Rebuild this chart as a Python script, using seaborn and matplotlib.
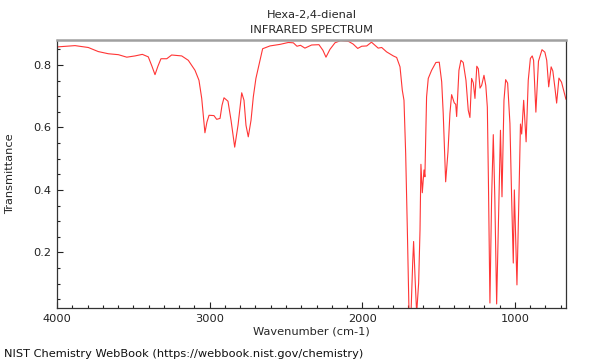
import numpy as np
import pandas as pd
import matplotlib
matplotlib.use("Agg")
import matplotlib.pyplot as plt
from matplotlib.ticker import MultipleLocator
import seaborn as sns

# --- spectrum (wavenumber cm-1, transmittance) ---
wavenumber = [3995, 3882, 3795, 3730, 3664, 3598, 3543, 3489, 3441, 3402,
              3378, 3358, 3339, 3319, 3281, 3249, 3183, 3140, 3096, 3070,
              3052, 3040, 3031, 3018, 3004, 2972, 2954, 2932, 2919, 2906,
              2880, 2860, 2836, 2814, 2790, 2775, 2762, 2747, 2729, 2714,
              2697, 2675, 2653, 2605, 2539, 2485, 2452, 2428, 2405, 2376,
              2332, 2284, 2258, 2238, 2212, 2179, 2143, 2092, 2060, 2030,
              2004, 1971, 1940, 1896, 1873, 1841, 1797, 1775, 1753, 1738,
              1727, 1716, 1705, 1694, 1681, 1670, 1664, 1653, 1644, 1631,
              1622, 1616, 1607, 1596, 1590, 1579, 1568, 1546, 1518, 1496,
              1480, 1470, 1454, 1439, 1426, 1415, 1398, 1388, 1382, 1367,
              1354, 1339, 1321, 1306, 1295, 1284, 1273, 1262, 1250, 1240,
              1229, 1218, 1203, 1191, 1181, 1174, 1164, 1153, 1142, 1132,
              1120, 1107, 1095, 1085, 1072, 1061, 1048, 1033, 1022, 1011,
              1004, 997, 987, 974, 964, 956, 943, 927, 913, 899,
              887, 878, 863, 846, 823, 804, 792, 779, 763, 752,
              738, 727, 712, 695, 666]
transmittance = [0.858, 0.862, 0.856, 0.843, 0.836, 0.833, 0.825, 0.829, 0.834, 0.826,
                 0.796, 0.769, 0.796, 0.820, 0.820, 0.832, 0.829, 0.815, 0.783, 0.751,
                 0.693, 0.629, 0.583, 0.617, 0.639, 0.638, 0.626, 0.629, 0.671, 0.695,
                 0.684, 0.623, 0.537, 0.608, 0.711, 0.687, 0.607, 0.570, 0.623, 0.698,
                 0.757, 0.804, 0.852, 0.861, 0.866, 0.872, 0.871, 0.860, 0.863, 0.854,
                 0.864, 0.865, 0.847, 0.825, 0.850, 0.871, 0.878, 0.876, 0.867, 0.853,
                 0.860, 0.861, 0.873, 0.854, 0.856, 0.842, 0.829, 0.824, 0.794, 0.719,
                 0.687, 0.517, 0.272, 0.005, 0.005, 0.167, 0.235, 0.102, 0.005, 0.102,
                 0.272, 0.482, 0.391, 0.464, 0.442, 0.698, 0.757, 0.783, 0.808, 0.809,
                 0.746, 0.645, 0.426, 0.521, 0.645, 0.705, 0.679, 0.674, 0.635, 0.783,
                 0.815, 0.808, 0.751, 0.655, 0.632, 0.757, 0.743, 0.693, 0.796, 0.788,
                 0.726, 0.735, 0.767, 0.734, 0.665, 0.432, 0.038, 0.374, 0.577, 0.374,
                 0.035, 0.320, 0.591, 0.378, 0.687, 0.753, 0.742, 0.613, 0.378, 0.166,
                 0.400, 0.272, 0.096, 0.378, 0.611, 0.579, 0.687, 0.554, 0.751, 0.821,
                 0.829, 0.815, 0.649, 0.812, 0.849, 0.841, 0.815, 0.730, 0.794, 0.781,
                 0.726, 0.678, 0.758, 0.745, 0.690]

df = pd.DataFrame({"wavenumber": wavenumber, "transmittance": transmittance})

sns.set_style("ticks")
plt.rcParams['font.family'] = ['DejaVu Sans']
FS = 8.2

fig = plt.figure(figsize=(6, 3.6), dpi=100)
ax = fig.add_axes([0.095, 0.1444, 0.848, 0.7445])

sns.lineplot(data=df, x="wavenumber", y="transmittance", ax=ax,
             color="#ff3535", linewidth=0.8, sort=False)

ax.set_xlim(4000, 667)
ax.set_ylim(0.022, 0.88)
ax.xaxis.set_major_locator(MultipleLocator(1000))
ax.xaxis.set_minor_locator(MultipleLocator(100))
ax.yaxis.set_major_locator(MultipleLocator(0.2))
ax.yaxis.set_minor_locator(MultipleLocator(0.05))
ax.tick_params(which="both", direction="in", labelsize=FS, colors="#222222")
ax.tick_params(which="major", length=4.5, width=0.8, pad=4)
ax.tick_params(which="minor", length=2.5, width=0.8)

for side in ["left", "bottom", "right"]:
    ax.spines[side].set_visible(True)
    ax.spines[side].set_color("#333333")
    ax.spines[side].set_linewidth(0.9)
ax.spines["top"].set_visible(True)
ax.spines["top"].set_color("#a0a0a0")
ax.spines["top"].set_linewidth(1.8)

ax.set_xlabel("Wavenumber (cm-1)", fontsize=FS, labelpad=2)
ax.set_ylabel("Transmittance", fontsize=FS, labelpad=13)
ax.set_title("Hexa-2,4-dienal\nINFRARED SPECTRUM", fontsize=FS, pad=5, linespacing=1.65)

fig.text(0.006, 0.003, "NIST Chemistry WebBook (https://webbook.nist.gov/chemistry)",
         fontsize=FS, ha="left", va="bottom", color="#111111")

plt.savefig("out.png", dpi=100, facecolor="white")
